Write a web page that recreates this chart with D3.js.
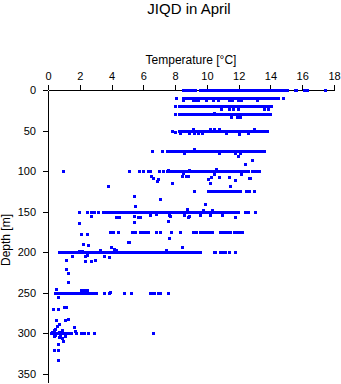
<!DOCTYPE html>
<html>
<head>
<meta charset="utf-8">
<script src="https://cdn.jsdelivr.net/npm/d3@7"></script>
<style>
  html, body { margin: 0; padding: 0; background: #fff; }
  svg { display: block; font-family: "Liberation Sans", Arial, Helvetica, sans-serif; }
</style>
</head>
<body>
<script>
// ---- Data ----
const titleText = "JIQD in April";
const xLabel = "Temperature [°C]";
const yLabel = "Depth [m]";
const xTicks = [0, 2, 4, 6, 8, 10, 12, 14, 16, 18];
const yTicks = [0, 50, 100, 150, 200, 250, 300, 350];

// Dense runs of overlapping observations at standard depths: [depth, tStart, tEnd]
const runDepths = [0, 10, 20, 30, 50, 75, 100, 125, 150, 200, 250, 300];
const runStart  = [9.6, 8.5, 8.3, 8.3, 8.3, 8.0, 7.5, 10.1, 3.5, 0.75, 0.45, 0.25];
const runEnd    = [15.1, 14.5, 14.1, 13.95, 13.65, 13.6, 12.6, 12.1, 12.0, 9.6, 2.55, 1.5];

// Individual observations: temperature (°C) and depth (m)
const pointTemps = [
  // 0 m
  8.5, 8.7, 8.9, 9.1, 9.3, 15.55, 15.65, 16.15, 16.35, 17.45,
  // ~10 m
  8.1, 14.85, 8.5, 9.15, 9.3, 9.5, 10.0, 10.4, 10.75, 11.4, 11.6, 12.1, 13.2, 12.0, 12.2,
  // ~20-30 m
  8.0, 10.9, 11.45, 11.65, 12.0, 13.65, 13.85, 8.0, 10.5, 11.55, 11.95, 12.1, 14.0,
  // ~50 m
  7.85, 8.0, 8.35, 8.9, 9.25, 9.5, 9.75, 11.25, 12.05, 12.6, 9.15, 10.2, 10.5, 10.8, 13.0, 13.8,
  // ~75 m
  6.55, 7.2, 7.5, 7.7, 7.9, 9.2, 8.57, 10.77, 11.8, 12.1, 12.0, 12.45, 12.9,
  // ~100 m
  0.95, 5.1, 5.75, 6.0, 6.3, 6.45, 7.0, 7.25, 12.9, 13.0, 13.1, 13.3, 7.57, 8.93, 10.6,
  // 100-145 m
  6.52, 6.67, 6.87, 6.94, 6.62, 7.84, 3.8, 5.47, 7.1, 5.53, 8.47, 8.72, 8.83, 8.5, 10.08, 10.3, 10.5,
  10.8, 10.25, 11.45, 11.78, 12.18, 12.7, 11.5, 9.9, 12.73,
  // ~125 m
  9.2, 12.5, 12.7, 13.0,
  // ~150 m
  2.0, 2.5, 2.75, 2.95, 3.2, 12.45, 12.6, 13.05,
  2.75, 4.28, 4.49, 5.47, 5.68, 5.85, 2.0, 5.47, 7.57, 7.7, 8.57, 8.78, 8.83, 6.48, 6.8, 7.67, 8.9,
  9.62, 10.2, 11.0, 11.78, 9.77, 10.36,
  // ~175 m
  2.12, 2.47, 3.96, 4.15, 4.45, 5.05, 5.3, 5.5, 5.8, 6.0, 6.2, 6.35, 6.85, 7.1, 7.8, 8.35, 9.15, 9.35,
  9.6, 9.75, 9.9, 10.05, 10.2, 10.35, 10.85, 11.0, 11.1, 11.3, 11.5, 11.75, 11.9, 12.1, 12.25,
  7.67, 8.47, 5.11, 2.22, 2.54,
  // ~200 m
  10.45, 10.55, 10.85, 11.05, 11.2, 11.4, 11.8, 7.46,
  3.33, 4.0, 4.17, 4.32, 2.0, 2.2, 2.39, 2.5, 1.55, 1.17, 2.75, 3.02, 2.39, 1.28, 1.17, 1.28, 3.86, 3.54,
  // ~250 m
  2.75, 2.9, 3.06, 3.58, 3.9, 4.84, 5.26, 6.52, 6.94, 7.57, 6.48, 6.73, 7.05, 7.6,
  2.1, 2.3, 2.47, 3.96, 0.55, 0.65,
  // ~300 m
  1.8, 2.12, 2.3, 2.54, 2.91, 6.67,
  0.33, 0.65, 1.03, 1.17, 1.28, 1.07, 0.55, 0.75, 0.59, 0.4, 0.44, 0.75, 0.92, 1.0, 0.65, 0.44, 0.65,
  0.69, 1.64, 1.76, 0.3, 0.5, 0.8, 1.1, 0.45, 0.7, 0.9
];
const pointDepths = [
  0, 0, 0, 0, 0, 0, 0, 0, 0, 0,
  10, 10, 12, 12, 12, 12, 12, 12, 12, 12, 12, 12, 12, 12, 12,
  20, 23, 23, 23, 23, 23, 23, 30, 28, 33, 33, 33, 30,
  50, 52, 53, 53, 53, 53, 53, 53, 54, 53, 48, 48, 48, 48, 48, 50,
  75, 75, 75, 75, 75, 73, 78, 78, 78, 78, 81, 91, 86,
  100, 100, 100, 100, 100, 100, 100, 100, 100, 100, 100, 100, 98, 98, 97,
  106, 109, 112, 110, 108, 115, 118, 131, 134, 143, 106, 106, 106, 102, 110, 107, 104,
  107, 114, 107, 111, 104, 109, 118, 140, 108,
  125, 125, 125, 125,
  150, 150, 150, 150, 150, 150, 150, 150,
  155, 156, 156, 155, 157, 156, 164, 163, 162, 155, 154, 147, 156, 154, 153, 154, 155,
  154, 154, 154, 156, 148, 148,
  178, 177, 175, 175, 175, 187, 175, 175, 175, 175, 175, 175, 175, 175, 175, 175, 175, 175,
  175, 175, 175, 175, 175, 175, 175, 175, 175, 175, 175, 175, 175, 175, 175,
  182, 193, 187, 190, 191,
  200, 200, 200, 200, 200, 200, 200, 197,
  197, 193, 196, 197, 199, 199, 205, 203, 204, 210, 211, 209, 211, 225, 221, 237, 206, 205,
  250, 250, 250, 250, 250, 250, 250, 250, 250, 250, 250, 250, 250, 250,
  246, 246, 246, 249, 245, 255,
  300, 300, 300, 300, 300, 300,
  270, 270, 267, 268, 282, 283, 284, 288, 291, 296, 303, 305, 306, 309, 313, 321, 321,
  333, 292, 297, 298, 302, 302, 303, 294, 298, 296
];

// ---- Chart ----
const W = 341, H = 384;
const color = "#0000ff";

const svg = d3.select("body").append("svg")
  .attr("width", W).attr("height", H);

const x = d3.scaleLinear().domain([0, 18]).range([48, 334]);
const y = d3.scaleLinear().domain([0, 350]).range([90, 374]);
const yAxisScale = d3.scaleLinear().domain([0, 361]).range([90, y(361)]);

// Title
svg.append("text")
  .attr("x", 189).attr("y", 14)
  .attr("text-anchor", "middle")
  .attr("font-size", 15)
  .text(titleText);

// X axis (top)
const gx = svg.append("g")
  .attr("transform", "translate(0,90)")
  .attr("shape-rendering", "crispEdges")
  .call(d3.axisTop(x).tickValues(xTicks).tickSize(5).tickSizeOuter(0).tickPadding(5)
    .tickFormat(d3.format("d")));
gx.selectAll("text").attr("font-size", 11).attr("fill", "#000")
  .attr("font-family", "\"Liberation Sans\", Arial, sans-serif");
gx.selectAll("line, path").attr("stroke", "#000");

// Y axis (left)
const gy = svg.append("g")
  .attr("transform", "translate(48,0)")
  .attr("shape-rendering", "crispEdges")
  .call(d3.axisLeft(yAxisScale).tickValues(yTicks).tickSize(5).tickSizeOuter(0).tickPadding(7)
    .tickFormat(d3.format("d")));
gy.selectAll("text").attr("font-size", 11).attr("fill", "#000")
  .attr("font-family", "\"Liberation Sans\", Arial, sans-serif");
gy.selectAll("line, path").attr("stroke", "#000");

// Axis titles
svg.append("text")
  .attr("x", 191).attr("y", 64)
  .attr("text-anchor", "middle")
  .attr("font-size", 12)
  .text(xLabel);

svg.append("text")
  .attr("transform", "translate(10,240) rotate(-90)")
  .attr("text-anchor", "middle")
  .attr("font-size", 12)
  .text(yLabel);

// Dense runs
const runs = runDepths.map((d, i) => ({ depth: d, t0: runStart[i], t1: runEnd[i] }));
svg.append("g").attr("shape-rendering", "crispEdges")
  .selectAll("rect").data(runs).join("rect")
  .attr("x", d => Math.round(x(d.t0) - 1.5))
  .attr("y", d => Math.round(y(d.depth) - 1))
  .attr("width", d => Math.round(x(d.t1) - x(d.t0) + 3))
  .attr("height", 3)
  .attr("fill", color);

// Individual points
const pts = pointTemps.map((t, i) => ({ t, depth: pointDepths[i] }));
svg.append("g").attr("shape-rendering", "crispEdges")
  .selectAll("rect").data(pts).join("rect")
  .attr("x", d => Math.round(x(d.t) - 1.5))
  .attr("y", d => Math.round(y(d.depth) - 1))
  .attr("width", 3)
  .attr("height", 3)
  .attr("fill", color);
</script>
</body>
</html>
